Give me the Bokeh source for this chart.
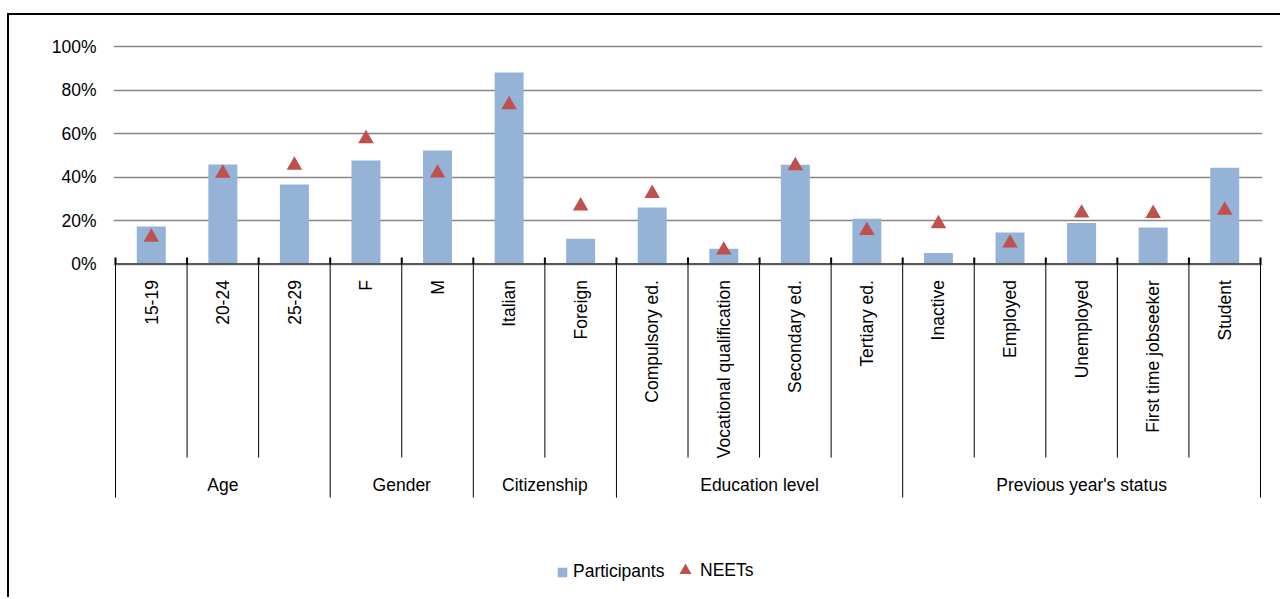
import math

from bokeh.core.properties import value
from bokeh.embed import file_html
from bokeh.models import FixedTicker, Legend, LegendItem, Range1d
from bokeh.plotting import figure
from bokeh.resources import INLINE

# Share of participants and of NEETs by characteristic (%)
categories = [
    "15-19", "20-24", "25-29",
    "F", "M",
    "Italian", "Foreign",
    "Compulsory ed.", "Vocational qualification", "Secondary ed.", "Tertiary ed.",
    "Inactive", "Employed", "Unemployed", "First time jobseeker", "Student",
]
category_group = (
    ["Age"] * 3
    + ["Gender"] * 2
    + ["Citizenship"] * 2
    + ["Education level"] * 4
    + ["Previous year's status"] * 5
)
participants = [17.2, 45.7, 36.6, 47.6, 52.2, 88.0, 11.6, 26.0, 7.0, 45.6, 20.8, 5.1, 14.5, 18.9, 16.8, 44.2]
neets = [12.3, 41.7, 45.4, 57.6, 41.8, 73.2, 26.7, 32.4, 6.4, 45.2, 15.4, 18.5, 9.6, 23.4, 23.2, 24.7]
y_ticks = [0, 20, 40, 60, 80, 100]
y_tick_labels = ["0%", "20%", "40%", "60%", "80%", "100%"]

BAR_COLOR = "#95B3D7"
MARK_COLOR = "#C0504D"
FONT = "'Liberation Sans', Arial, sans-serif"
FONT_SIZE = "17.5px"

n = len(categories)
xs = [i + 0.5 for i in range(n)]

# group spans along the category axis
groups = []
for i, g in enumerate(category_group):
    if not groups or groups[-1][0] != g:
        groups.append([g, i, i + 1])
    else:
        groups[-1][2] = i + 1
group_names = [g[0] for g in groups]
group_centers = [(g[1] + g[2]) / 2 for g in groups]
group_edges = sorted({g[1] for g in groups} | {g[2] for g in groups})
inner_edges = [i for i in range(n + 1) if i not in group_edges]

p = figure(
    width=1273,
    height=584,
    x_range=Range1d(-0.028, 16.028),
    y_range=Range1d(-154.25, 100.92),
    output_backend="svg",
    toolbar_location=None,
    x_axis_location=None,
    min_border_left=104,
    min_border_right=20,
    min_border_top=29,
    min_border_bottom=0,
)
# chart border on the left and top edges
p.styles = {
    "margin-left": "7px",
    "margin-top": "13px",
    "border-left": "2px solid #000000",
    "border-top": "2px solid #000000",
}
p.outline_line_color = None
p.background_fill_color = "white"
p.border_fill_color = "white"
p.xgrid.visible = False

p.yaxis.ticker = FixedTicker(ticks=y_ticks)
p.yaxis.major_label_overrides = dict(zip(y_ticks, y_tick_labels))
p.yaxis.axis_line_color = None
p.yaxis.major_tick_line_color = None
p.yaxis.minor_tick_line_color = None
p.yaxis.major_tick_out = 0
p.yaxis.major_label_standoff = 17
p.yaxis.major_label_text_font = FONT
p.yaxis.major_label_text_font_size = FONT_SIZE
p.yaxis.major_label_text_color = "black"
p.ygrid.grid_line_color = "#868686"
p.ygrid.grid_line_width = 1.3

bars = p.vbar(x=xs, top=participants, bottom=0, width=0.405,
              fill_color=BAR_COLOR, line_color=None)
marks = p.scatter(x=xs, y=neets, marker="triangle", size=15.5,
                  fill_color=MARK_COLOR, line_color=None)

# category axis line, tick marks and separators
p.segment(x0=[0], y0=[0], x1=[n], y1=[0], line_color="#595959", line_width=2)
edges = list(range(n + 1))
p.segment(x0=edges, y0=[0] * len(edges), x1=edges, y1=[3.0] * len(edges),
          line_color="black", line_width=2)
p.segment(x0=inner_edges, y0=[0] * len(inner_edges), x1=inner_edges,
          y1=[-89.0] * len(inner_edges), line_color="black", line_width=1)
p.segment(x0=group_edges, y0=[0] * len(group_edges), x1=group_edges,
          y1=[-107.4] * len(group_edges), line_color="black", line_width=1)

p.text(x=xs, y=[-7.4] * n, text=categories, angle=math.pi / 2,
       text_align="right", text_baseline="middle",
       text_font=value(FONT), text_font_size=FONT_SIZE, text_color="black")
p.text(x=group_centers, y=[-101.4] * len(groups), text=group_names,
       text_align="center", text_baseline="middle",
       text_font=value(FONT), text_font_size=FONT_SIZE, text_color="black")

common = dict(orientation="horizontal", padding=0, margin=0, spacing=0,
              border_line_color=None, background_fill_alpha=0,
              label_text_font=FONT, label_text_font_size=FONT_SIZE,
              label_text_color="black")
leg_bars = Legend(items=[LegendItem(label="Participants", renderers=[bars])],
                  location=(443, 17), glyph_width=12, glyph_height=12,
                  label_standoff=5, **common)
leg_marks = Legend(items=[LegendItem(label="NEETs", renderers=[marks])],
                   location=(557, 14), glyph_width=30, glyph_height=30,
                   label_standoff=0, **common)
p.add_layout(leg_bars)
p.add_layout(leg_marks)

open("out.html", "w").write(file_html(p, INLINE))
